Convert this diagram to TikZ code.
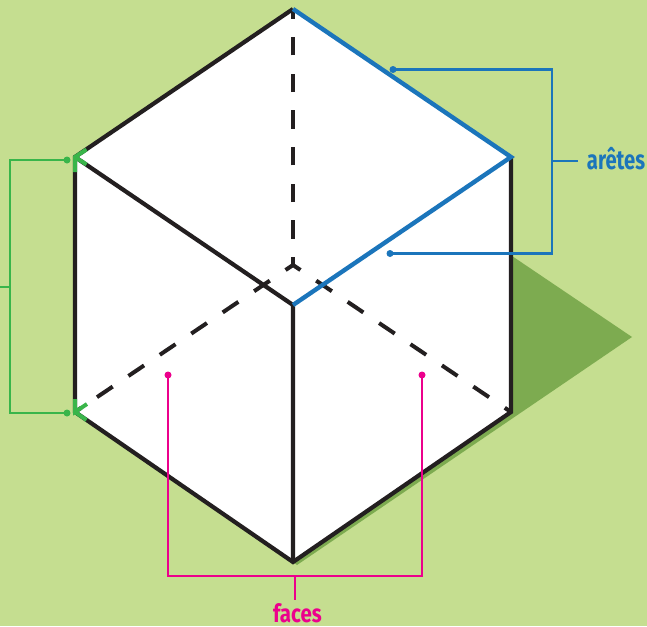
\documentclass[tikz,border=0pt]{standalone}
\usepackage{fontspec}
\setmainfont{Fira Sans}
\definecolor{bgc}{HTML}{C5DE90}
\definecolor{shadowc}{HTML}{7DAB50}
\definecolor{inkc}{HTML}{231F20}
\definecolor{bluec}{HTML}{1B75BB}
\definecolor{pinkc}{HTML}{EC008C}
\definecolor{greenc}{HTML}{39B54A}
\tikzset{
  edge/.style={draw=inkc,line width=4.2pt,line join=miter},
  hidden/.style={draw=inkc,line width=4pt},
  bluedge/.style={draw=bluec,line width=4.4pt,line join=miter},
  tick/.style={draw=greenc,line width=4pt,line join=miter},
  leader/.style={line width=2.6pt,line join=miter},
  dotmark/.style={circle,inner sep=0pt,minimum size=7pt,fill=#1},
  lbl/.style={font=\bfseries\fontsize{27}{27}\selectfont,inner sep=0pt,anchor=base}
}
\begin{document}
\begin{tikzpicture}[x=1pt,y=-1pt]
\useasboundingbox (0,0) rectangle (647,626);
\fill[bgc] (0,0) rectangle (647,626);
% cube vertices
\coordinate (T) at (293,9);
\coordinate (R) at (511,157);
\coordinate (L) at (75,157);
\coordinate (C) at (293,305);
\coordinate (LB) at (75,412);
\coordinate (RB) at (511,412);
\coordinate (B) at (293,562);
\coordinate (H) at (293,265);
% shadow
\fill[shadowc] (512,256) -- (632,337) -- (297,565) -- (293,562) -- cycle;
% faces
\fill[white] (T) -- (R) -- (RB) -- (B) -- (LB) -- (L) -- cycle;
% hidden edges
\draw[hidden,dash pattern=on 18.9pt off 19pt,dash phase=9.9pt] (H) -- (LB);
\draw[hidden,dash pattern=on 18.9pt off 19pt,dash phase=9.9pt] (H) -- (RB);
\draw[hidden,dash pattern=on 18.5pt off 18.2pt,dash phase=10.5pt] (H) -- (T);
% visible edges
\draw[edge] (R) -- (RB) -- (B) -- (LB) -- (L) -- (T);
\draw[edge] (L) -- (C) -- (B);
\draw[bluedge] (T) -- (R) -- (C);
% green ticks
\coordinate (La) at (75,172);
\coordinate (Lb) at (86.5,149.5);
\coordinate (Lc) at (86.5,164.5);
\coordinate (Ba) at (75,399);
\coordinate (Bb) at (87,404);
\coordinate (Bc) at (86.5,420);
\draw[tick] (La) -- (L) -- (Lb);
\draw[tick] (L) -- (Lc);
\draw[tick] (Ba) -- (LB) -- (Bb);
\draw[tick] (LB) -- (Bc);
% green leader
\node[dotmark=greenc] (gd1) at (67,160) {};
\node[dotmark=greenc] (gd2) at (67,413) {};
\coordinate (gc1) at (10,160);
\coordinate (gc2) at (10,413);
\coordinate (gs) at (10,287);
\coordinate (gf) at (0,287);
\draw[leader,greenc] (gd1.center) -- (gc1) -- (gc2) -- (gd2.center);
\draw[leader,greenc,line width=1.6pt] (gs) -- (gf);
% blue leader
\node[dotmark=bluec] (bd1) at (393,69.5) {};
\node[dotmark=bluec] (bd2) at (390,253.5) {};
\coordinate (bc1) at (552,69.5);
\coordinate (bc2) at (552,253.5);
\coordinate (bs) at (552,161);
\coordinate (bf) at (578,161);
\draw[leader,bluec] (bd1.center) -- (bc1) -- (bc2) -- (bd2.center);
\draw[leader,bluec] (bs) -- (bf);
\node[lbl,text=bluec,xscale=.75] (aretes) at (616,169) {arêtes};
% pink leader
\node[dotmark=pinkc] (pd1) at (168,375) {};
\node[dotmark=pinkc] (pd2) at (422,375) {};
\coordinate (pc1) at (168,576);
\coordinate (pc2) at (422,576);
\coordinate (ps) at (295,576);
\coordinate (pf) at (295,600);
\draw[leader,pinkc] (pd1.center) -- (pc1) -- (pc2) -- (pd2.center);
\draw[leader,pinkc] (ps) -- (pf);
\node[lbl,text=pinkc,xscale=.82,font=\bfseries\fontsize{25}{25}\selectfont] (faces) at (297.5,622.5) {faces};
\end{tikzpicture}
\end{document}
